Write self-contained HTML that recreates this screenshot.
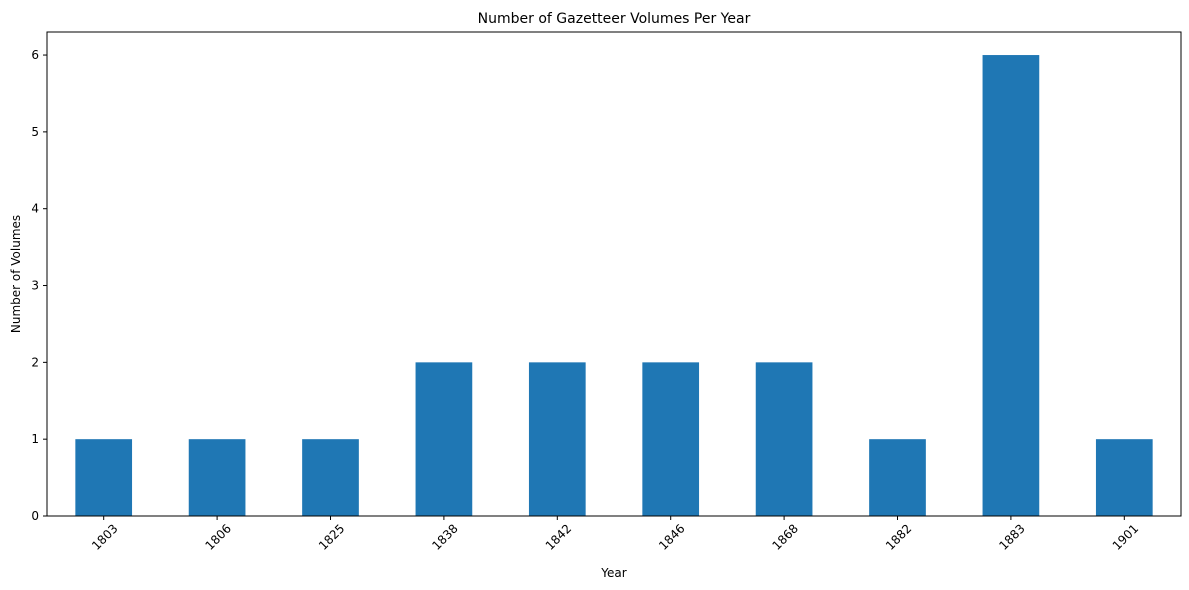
<!DOCTYPE html>
<html><head><meta charset="utf-8"><style>
body{margin:0;background:#fff;}
svg{display:block;font-family:"DejaVu Sans","Liberation Sans",sans-serif;}
</style></head><body>
<svg id="chart" width="1189" height="590"></svg>
<script>
const categories=["1803","1806","1825","1838","1842","1846","1868","1882","1883","1901"];
const values=[1,1,1,2,2,2,2,1,6,1];
const yTicks=[0,1,2,3,4,5,6];
const L=47,R=1181,T=32,B=516,yMax=6.3;
const NS="http://www.w3.org/2000/svg";
const svg=document.getElementById('chart');
const step=(R-L)/categories.length;
function xs(i){return L+step*(i+0.5);}
function ys(v){return B-(B-T)*v/yMax;}
function mk(tag,attrs,text){const e=document.createElementNS(NS,tag);for(const k in attrs)e.setAttribute(k,attrs[k]);if(text!==undefined)e.textContent=text;svg.appendChild(e);return e;}
values.forEach((v,i)=>{
  const r=mk('rect',{x:xs(i)-step/4,y:ys(v),width:step/2,height:ys(0)-ys(v),fill:'#1f77b4'});
  
  
});
const frame=mk('rect',{x:L,y:T,width:R-L,height:B-T,fill:'none',stroke:'#000','stroke-width':1});


yTicks.forEach(t=>{
  mk('line',{x1:L-4,x2:L,y1:ys(t),y2:ys(t),stroke:'#000'});
  const tx=mk('text',{x:L-8,y:ys(t)+4,'text-anchor':'end','font-size':12},String(t));
  
  
});
categories.forEach((c,i)=>{
  mk('line',{x1:xs(i),x2:xs(i),y1:B,y2:B+4,stroke:'#000'});
  const x=xs(i)+4,y=B+24;
  const tx=mk('text',{x:x,y:y,'text-anchor':'middle','font-size':12,transform:`rotate(-45 ${x} ${y})`},c);
  
  
});
const title=mk('text',{x:(L+R)/2,y:23,'text-anchor':'middle','font-size':14},'Number of Gazetteer Volumes Per Year');


const xt=mk('text',{x:(L+R)/2,y:577,'text-anchor':'middle','font-size':12},'Year');


const yt=mk('text',{x:20,y:(T+B)/2,'text-anchor':'middle','font-size':12,transform:`rotate(-90 20 ${(T+B)/2})`},'Number of Volumes');


</script>
</body></html>
